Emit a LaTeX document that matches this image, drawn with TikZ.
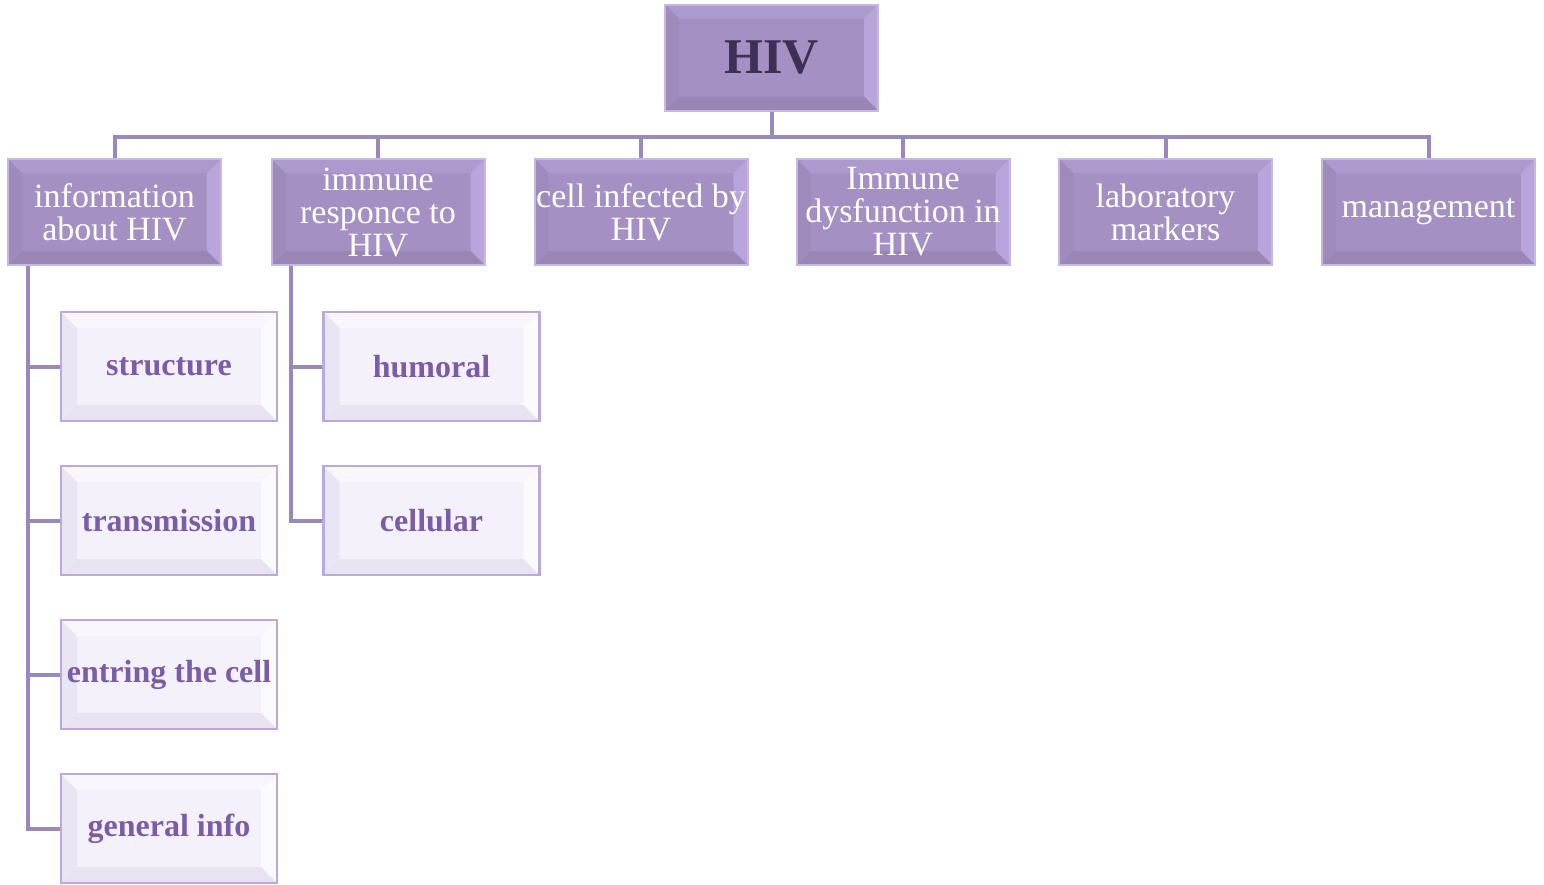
\documentclass[tikz,border=0pt]{standalone}
\usepackage{fontspec}
\setmainfont{Liberation Serif}
\definecolor{topfill}{HTML}{A490C3}
\definecolor{toptop}{HTML}{AC99CD}
\definecolor{topright}{HTML}{B7A5DC}
\definecolor{topbot}{HTML}{9986B5}
\definecolor{topleft}{HTML}{9E8BBC}
\definecolor{topedge}{HTML}{C6B8E4}
\definecolor{chfill}{HTML}{F4F1FB}
\definecolor{chtop}{HTML}{F9F7FD}
\definecolor{chright}{HTML}{FBFAFF}
\definecolor{chbot}{HTML}{E8E2F1}
\definecolor{chleft}{HTML}{EAE5F2}
\definecolor{chedge}{HTML}{BBA8DC}
\definecolor{chtext}{HTML}{7A5CA8}
\definecolor{linec}{HTML}{9B87BA}
\definecolor{hivtext}{HTML}{3E2F55}
\tikzset{
  bevel/.style n args={5}{path picture={
    \fill[#1] (path picture bounding box.north west) -- (path picture bounding box.north east)
      -- ([xshift=-#5,yshift=-#5]path picture bounding box.north east)
      -- ([xshift=#5,yshift=-#5]path picture bounding box.north west) -- cycle;
    \fill[#2] (path picture bounding box.north east) -- (path picture bounding box.south east)
      -- ([xshift=-#5,yshift=#5]path picture bounding box.south east)
      -- ([xshift=-#5,yshift=-#5]path picture bounding box.north east) -- cycle;
    \fill[#3] (path picture bounding box.south east) -- (path picture bounding box.south west)
      -- ([xshift=#5,yshift=#5]path picture bounding box.south west)
      -- ([xshift=-#5,yshift=#5]path picture bounding box.south east) -- cycle;
    \fill[#4] (path picture bounding box.south west) -- (path picture bounding box.north west)
      -- ([xshift=#5,yshift=-#5]path picture bounding box.north west)
      -- ([xshift=#5,yshift=#5]path picture bounding box.south west) -- cycle;
  }},
  topbox/.style={rectangle, fill=topfill, draw=topedge, line width=2pt,
    minimum width=213pt, minimum height=106pt, inner sep=0pt, align=center,
    text=white, font=\fontsize{34}{33}\selectfont,
    bevel={toptop}{topright}{topbot}{topleft}{14pt}},
  hivbox/.style={topbox, text=hivtext, font=\fontsize{50}{52}\selectfont\bfseries},
  childbox/.style={rectangle, fill=chfill, draw=chedge, line width=2.5pt,
    minimum width=216pt, minimum height=109pt, inner sep=0pt, align=center,
    text=chtext, font=\fontsize{32}{33}\selectfont\bfseries,
    bevel={chtop}{chright}{chbot}{chleft}{16pt}},
  conn/.style={draw=linec, line width=4pt}
}
\begin{document}
\begin{tikzpicture}[x=1pt,y=-1pt]
\useasboundingbox (0,0) rectangle (1544,884);
\node[hivbox] (hiv) at (771.5,57.5) {HIV};
\node[topbox] (info) at (114.5,212) {information\\about HIV};
\node[topbox] (imm) at (378,212) {immune\\responce to\\HIV};
\node[topbox] (cell) at (641,212) {cell infected by\\HIV};
\node[topbox] (dys) at (903,212) {Immune\\dysfunction in\\HIV};
\node[topbox] (lab) at (1165.5,212) {laboratory\\markers};
\node[topbox] (man) at (1428.5,212) {management};
\node[childbox] (str) at (169,366.5) {structure};
\node[childbox] (tra) at (169,520.5) {transmission};
\node[childbox] (ent) at (169,674.5) {entring the cell};
\node[childbox] (gen) at (169,828.5) {general info};
\node[childbox] (hum) at (431.5,366.5) {humoral};
\node[childbox] (cel) at (431.5,520.5) {cellular};
\foreach \t in {info,imm,cell,dys,lab,man}{
  \draw[conn] (hiv.south) -- ++(0,25) -| (\t.north);
}
\foreach \c in {str,tra,ent,gen}{
  \draw[conn] ([xshift=21pt]info.south west) |- (\c.west);
}
\foreach \c in {hum,cel}{
  \draw[conn] ([xshift=20pt]imm.south west) |- (\c.west);
}
\end{tikzpicture}
\end{document}
